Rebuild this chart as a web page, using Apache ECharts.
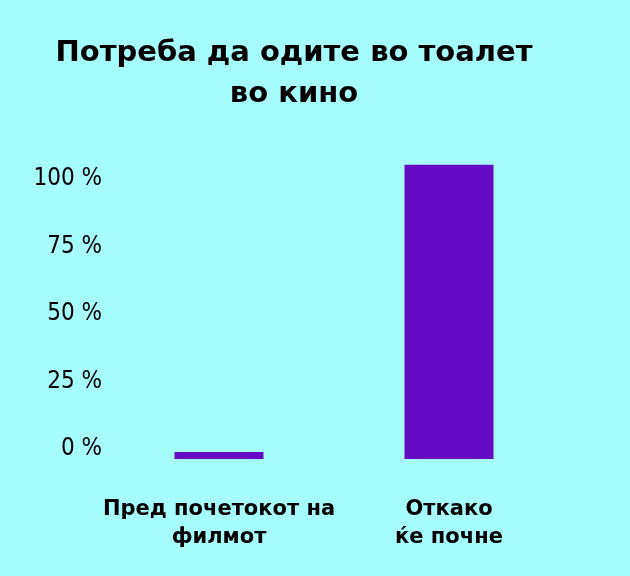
<!DOCTYPE html>
<html>
<head>
<meta charset="utf-8">
<script src="https://cdn.jsdelivr.net/npm/echarts@6/dist/echarts.min.js"></script>
<style>
html,body{margin:0;padding:0;background:#a6fcfb;}
#c{width:630px;height:576px;}
</style>
</head>
<body>
<div id="c"></div>
<script>
var titleText = 'Потреба да одите во тоалет\nво кино';
var categories = ['Пред почетокот на\nфилмот', 'Откако\nќе почне'];
var values = [2.6, 109];
var tickValues = [0, 25, 50, 75, 100];

var chart = echarts.init(document.getElementById('c'));
chart.setOption({
  backgroundColor: '#a6fcfb',
  animation: false,
  title: {
    text: titleText,
    left: 294,
    textAlign: 'center',
    top: 33,
    padding: 0,
    textStyle: {
      fontFamily: 'DejaVu Sans',
      fontWeight: 'bold',
      fontSize: 29,
      lineHeight: 41,
      color: '#000'
    }
  },
  grid: { left: 104, right: 66, top: 162, bottom: 117, containLabel: false },
  xAxis: {
    type: 'category',
    data: categories,
    axisLine: { show: false },
    axisTick: { show: false },
    axisLabel: {
      margin: 37,
      fontFamily: 'DejaVu Sans',
      fontWeight: 'bold',
      fontSize: 21,
      lineHeight: 28,
      color: '#000',
      interval: 0
    }
  },
  yAxis: {
    type: 'value',
    min: 0,
    max: 110,
    interval: 25,
    splitLine: { show: false },
    axisLine: { show: false },
    axisTick: { show: false },
    axisLabel: {
      margin: 2,
      fontFamily: 'DejaVu Sans Condensed',
      fontSize: 24,
      color: '#000',
      verticalAlign: 'bottom',
      lineHeight: 20,
      formatter: function (v) { return tickValues.indexOf(v) >= 0 ? v + ' %' : ''; }
    }
  },
  series: [{
    type: 'bar',
    data: values,
    barWidth: 89,
    itemStyle: { color: '#660bc4' }
  }]
});
</script>
</body>
</html>
